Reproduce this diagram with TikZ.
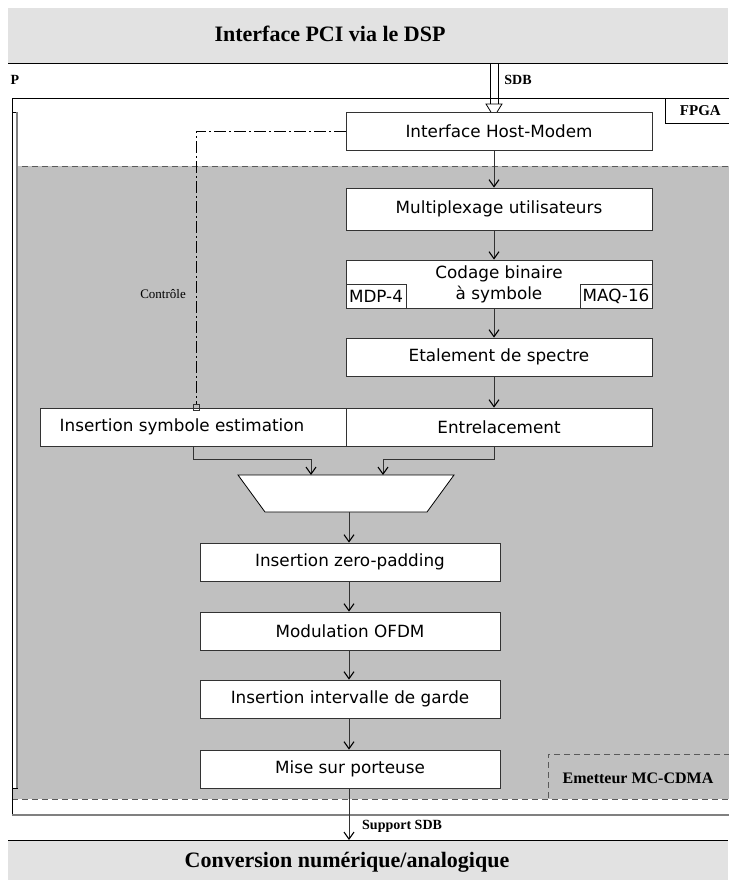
\documentclass[tikz,border=0pt]{standalone}
\usepackage{fontspec}
\setmainfont{Liberation Serif}
\newfontfamily\boxfont{DejaVu Sans}
\usetikzlibrary{arrows.meta}
\definecolor{bandgray}{HTML}{E2E2E2}
\definecolor{zonegray}{HTML}{C0C0C0}
\definecolor{linegray}{HTML}{333333}
\definecolor{dashgray}{HTML}{5A5A5A}
\begin{document}
\begin{tikzpicture}[x=1pt,y=-1pt,
  blk/.style={draw=linegray, line width=0.8pt, fill=white, inner sep=0pt, minimum width=306, minimum height=38, font=\boxfont\fontsize{16.8}{21}\selectfont, text=black},
  lowblk/.style={blk, minimum width=300},
  flow/.style={draw=linegray, line width=0.8pt, -{Straight Barb[length=7pt,width=10pt,line width=1.1pt,color=black]}},
  ttl/.style={font=\bfseries\fontsize{22}{26}\selectfont, inner sep=0pt},
  lbl/.style={font=\bfseries\fontsize{14}{16}\selectfont, inner sep=0pt},
  ctrl/.style={draw=black, line width=0.7pt, dash pattern=on 12pt off 3pt on 2pt off 3pt},
  zonedash/.style={draw=dashgray, line width=1pt, dash pattern=on 6pt off 4pt}]
\useasboundingbox (0,0) rectangle (728,891);
% top band
\fill[bandgray] (8,8) rectangle (728,64);
\draw[line width=1pt] (8,64) -- (728,64);
\node[ttl] (pci) at (330,34) {Interface PCI via le DSP};
% bottom band
\fill[bandgray] (8,840) rectangle (728,880);
\draw[line width=1pt] (8,840) -- (728,840);
\node[ttl] (cna) at (347,862) {Conversion numérique/analogique};
% FPGA zone
\fill[zonegray] (12,166) rectangle (730,799);
\draw[zonedash] (12,166) -- (730,166) (12,799) -- (730,799);
\draw[line width=0.8pt] (730,98) -- (12,98) -- (12,815);
\draw[gray, line width=1.6pt] (12,815) -- (730,815);
\filldraw[fill=white, draw=black, line width=0.6pt] (12,112) rectangle (17,788);
\draw[gray, line width=1.5pt] (17,112) -- (17,788);
\node[draw, line width=0.8pt, fill=white, anchor=north west, minimum width=70, minimum height=25, inner sep=0pt, font=\bfseries\fontsize{15}{17}\selectfont] (fpga) at (665,98) {FPGA};
% labels
\node[lbl] (p) at (15,80) {P};
\node[lbl] (sdb) at (518,80) {SDB};
% SDB arrow
\coordinate (axis) at (494,0);
\coordinate (axisb) at (349,0);
\draw[line width=0.8pt] (490,64) -- (490,104) (498,64) -- (498,104);
\draw[fill=white, line width=0.8pt] (486,104) -- (502,104) -- (494,117) -- cycle;
% upper blocks
\node[blk] (hm) at (499,131) {Interface Host-Modem};
\node[blk, minimum height=42] (mux) at (499,209) {Multiplexage utilisateurs};
\node[blk, minimum height=48, align=center] (cod) at (499,284) {Codage binaire\\à symbole};
\node[blk, minimum width=60, minimum height=24] (mdp) at (376,296) {MDP-4};
\node[blk, minimum width=72, minimum height=24] (maq) at (616,296) {MAQ-16};
\node[blk] (eta) at (499,357) {Etalement de spectre};
\node[blk] (ent) at (499,427) {Entrelacement};
\node[blk] (ise) at (193,427) {\hspace*{-22pt}Insertion symbole estimation};
% multiplexer
\filldraw[fill=white, draw=black, line width=0.8pt] (238,475) -- (454,475) -- (427,512) -- (265,512) -- cycle;
\coordinate (mxin1) at (311,475);
\coordinate (mxin2) at (383,475);
\coordinate (mxout) at (349,512);
% lower blocks
\node[lowblk] (izp) at (350,562) {Insertion zero-padding};
\node[lowblk] (ofdm) at (350,631) {Modulation OFDM};
\node[lowblk] (iig) at (350,699) {Insertion intervalle de garde};
\node[lowblk] (msp) at (350,769) {Mise sur porteuse};
\coordinate (cnatop) at (349,840);
% flow arrows
\draw[flow] (hm.south -| axis) -- (mux.north -| axis);
\draw[flow] (mux.south -| axis) -- (cod.north -| axis);
\draw[flow] (cod.south -| axis) -- (eta.north -| axis);
\draw[flow] (eta.south -| axis) -- (ent.north -| axis);
\draw[flow] (ent.south -| axis) -- ++(0,13) -| (mxin2);
\draw[flow] (ise.south) -- ++(0,13) -| (mxin1);
\draw[flow] (mxout) -- (izp.north -| axisb);
\draw[flow] (izp.south -| axisb) -- (ofdm.north -| axisb);
\draw[flow] (ofdm.south -| axisb) -- (iig.north -| axisb);
\draw[flow] (iig.south -| axisb) -- (msp.north -| axisb);
\draw[flow] (msp.south -| axisb) -- (cnatop);
\node[lbl, anchor=west] (ssdb) at (362,826) {Support SDB};
% control
\node[draw=linegray, line width=0.6pt, minimum size=6pt, inner sep=0pt] (mk) at (196,407) {};
\draw[ctrl] (hm.west) -| (mk.north);
\node[font=\fontsize{13}{15}\selectfont, anchor=east, inner sep=0pt] (ctl) at (186,294) {Contrôle};
% emitter label
\draw[zonedash] (730,754) -- (548,754) -- (548,799);
\node[font=\bfseries\fontsize{16}{18}\selectfont, inner sep=0pt] (em) at (638,778) {Emetteur MC-CDMA};
\end{tikzpicture}
\end{document}
